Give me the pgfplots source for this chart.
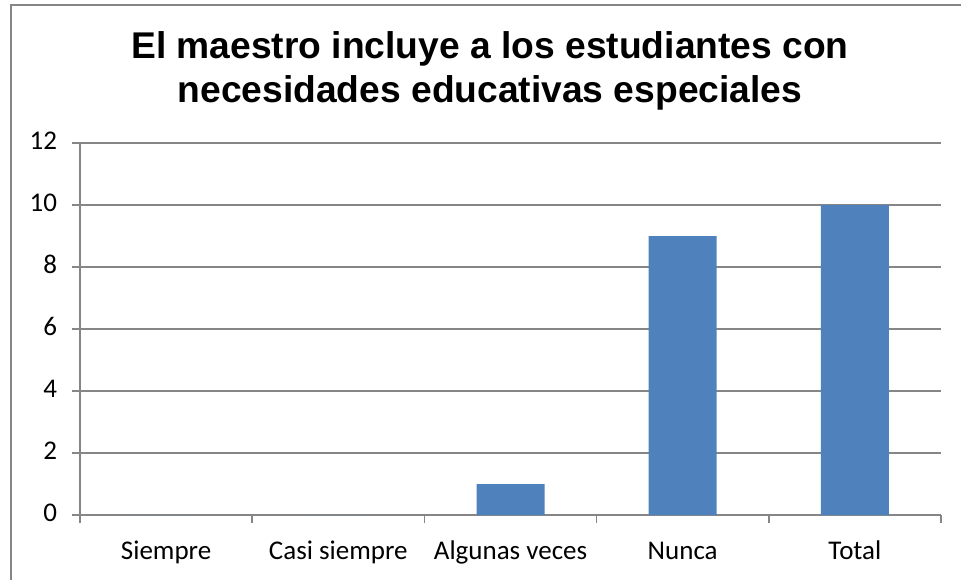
\documentclass[border=0pt]{standalone}
\usepackage{fontspec}
\setmainfont{Carlito}
\newfontfamily\titlefont{Liberation Sans}
\usepackage{pgfplots}
\pgfplotsset{compat=1.18}
\definecolor{barblue}{RGB}{79,129,189}
\definecolor{gridgray}{RGB}{134,134,134}
\begin{document}
\begin{tikzpicture}
\useasboundingbox (0,0) rectangle (480.5pt,289.5pt);
\draw[gridgray, line width=0.9pt] (5.5pt,-20pt) -- (5.5pt,287pt) -- (520pt,287pt);
\node[anchor=base, font=\titlefont\bfseries\fontsize{18.6}{21}\selectfont] at (245pt,260pt) {El maestro incluye a los estudiantes con};
\node[anchor=base, font=\titlefont\bfseries\fontsize{18.6}{21}\selectfont] at (245pt,238pt) {necesidades educativas especiales};
\begin{axis}[
  at={(40pt,32pt)}, anchor=south west,
  scale only axis, width=430.5pt, height=186pt,
  xmin=-0.5, xmax=4.5, ymin=0, ymax=12,
  axis x line*=bottom, axis y line*=left,
  axis line style={gridgray, line width=0.75pt},
  ybar, bar width=34pt,
  xtick={0,1,2,3,4},
  xticklabels={Siempre,Casi siempre,Algunas veces,Nunca,Total},
  minor xtick={-0.5,0.5,1.5,2.5,3.5,4.5},
  ytick={0,2,...,12},
  ymajorgrids,
  major grid style={gridgray, line width=0.75pt},
  tick align=outside,
  major x tick style={draw=none},
  minor x tick style={gridgray, line width=0.75pt},
  minor tick length=4pt,
  major y tick style={gridgray, line width=0.75pt},
  major tick length=4pt,
  tick label style={font=\fontsize{13.5}{16}\selectfont},
  /pgf/number format/assume math mode=true,
  typeset ticklabels with strut,
  xticklabel style={yshift=-3.5pt},
  yticklabel style={xshift=-4pt},
]
\addplot[fill=barblue, draw=none] coordinates {(0,0) (1,0) (2,1) (3,9) (4,10)};
\end{axis}
\end{tikzpicture}
\end{document}
